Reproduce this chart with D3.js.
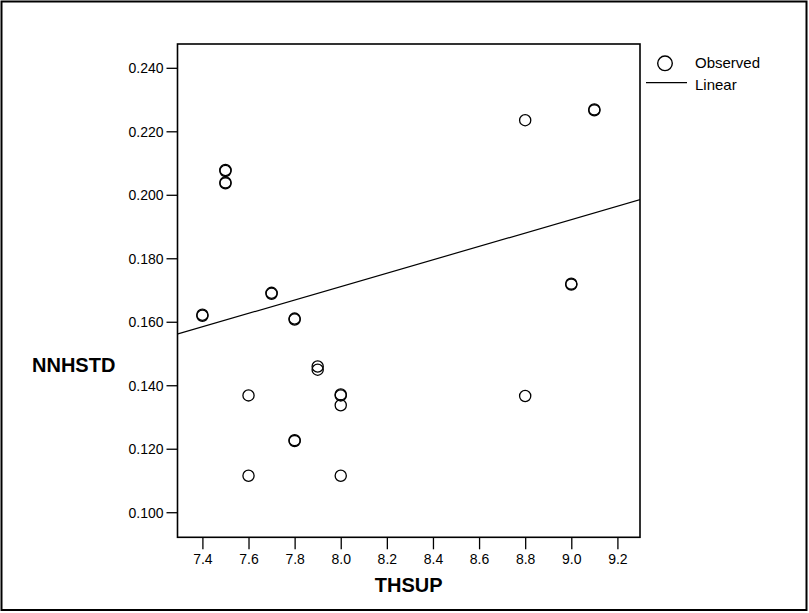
<!DOCTYPE html>
<html>
<head>
<meta charset="utf-8">
<script src="https://cdn.jsdelivr.net/npm/d3@7"></script>
<style>
  body { margin: 0; background: #fff; }
  svg { font-family: "Liberation Sans", Arial, sans-serif; }
</style>
</head>
<body>
<svg width="809" height="613"></svg>
<script>
// observed points (overlapping pairs show up as the heavier circles)
var thsup = [7.4, 7.4, 7.5, 7.5, 7.5, 7.5, 7.6, 7.6, 7.7, 7.7, 7.8, 7.8, 7.8, 7.8,
             7.9, 7.9, 8.0, 8.0, 8.0, 8.0, 8.8, 8.8, 9.0, 9.0, 9.1, 9.1];
var nnhstd = [0.1619, 0.1622, 0.2075, 0.2078, 0.2036, 0.2039, 0.1368, 0.1115, 0.1688, 0.1691,
              0.1607, 0.1610, 0.1224, 0.1227, 0.1459, 0.1449, 0.1368, 0.1371, 0.1337, 0.1115,
              0.2235, 0.1366, 0.1717, 0.1720, 0.2266, 0.2269];

// fitted linear line, read at the plot edges
var lineX = [7.29, 9.3];
var lineY = [0.1561, 0.1985];

var xTicks = [7.4, 7.6, 7.8, 8.0, 8.2, 8.4, 8.6, 8.8, 9.0, 9.2];
var yTicks = [0.100, 0.120, 0.140, 0.160, 0.180, 0.200, 0.220, 0.240];

function main(){
    var svg = d3.select("svg");
    var left = 177.5, right = 640, top = 44, bottom = 537.3;

    // outer frame
    svg.append("rect")
        .attr("x", 1.5).attr("y", 1.5)
        .attr("width", 805).attr("height", 608.5)
        .attr("fill", "none")
        .attr("stroke", "#000")
        .attr("stroke-width", 2);

    var x = d3.scaleLinear().domain([7.292, 9.298]).range([left, right]);
    var y = d3.scaleLinear().domain([0.0921, 0.2475]).range([bottom, top]);

    var points = thsup.map(function(d, i){ return {x: d, y: nnhstd[i]}; });

    var xAxis = svg.append("g")
        .attr("transform", "translate(0," + bottom + ")")
        .call(d3.axisBottom(x).tickValues(xTicks).tickFormat(d3.format(".1f"))
            .tickSize(12).tickPadding(5));

    var yAxis = svg.append("g")
        .attr("transform", "translate(" + left + ",0)")
        .call(d3.axisLeft(y).tickValues(yTicks).tickFormat(d3.format(".3f"))
            .tickSize(11).tickPadding(3));

    [xAxis, yAxis].forEach(function(a){
        a.select(".domain").remove();
        a.selectAll("line").attr("stroke", "#000").attr("stroke-width", 1.3);
        a.selectAll("text")
            .attr("fill", "#000")
            .style("font-size", "14px")
            .style("font-family", "'Liberation Sans', Arial, sans-serif");
    });
    yAxis.selectAll("text").attr("dy", "0.36em");

    // plot frame
    svg.append("rect")
        .attr("x", left).attr("y", top)
        .attr("width", right - left).attr("height", bottom - top)
        .attr("fill", "none")
        .attr("stroke", "#000")
        .attr("stroke-width", 1.6);

    var clip = svg.append("clipPath").attr("id", "plotclip")
        .append("rect")
        .attr("x", left).attr("y", top)
        .attr("width", right - left).attr("height", bottom - top);

    svg.append("line")
        .attr("clip-path", "url(#plotclip)")
        .attr("x1", x(lineX[0])).attr("y1", y(lineY[0]))
        .attr("x2", x(lineX[1])).attr("y2", y(lineY[1]))
        .attr("stroke", "#000")
        .attr("stroke-width", 1.2);

    svg.selectAll(".pt")
        .data(points)
        .enter().append("circle")
        .attr("class", "pt")
        .attr("cx", function(d){ return x(d.x); })
        .attr("cy", function(d){ return y(d.y); })
        .attr("r", 5.6)
        .attr("fill", "none")
        .attr("stroke", "#000")
        .attr("stroke-width", 1.3);

    // axis titles
    svg.append("text")
        .attr("x", 32).attr("y", 372)
        .attr("font-size", "20px")
        .attr("font-weight", "bold")
        .text("NNHSTD");

    svg.append("text")
        .attr("x", (left + right) / 2).attr("y", 592)
        .attr("text-anchor", "middle")
        .attr("font-size", "20px")
        .attr("font-weight", "bold")
        .text("THSUP");

    // legend
    var lg = svg.append("g");
    lg.append("circle")
        .attr("cx", 665).attr("cy", 63.3).attr("r", 7.3)
        .attr("fill", "none").attr("stroke", "#000").attr("stroke-width", 1.4);
    lg.append("text")
        .attr("x", 695).attr("y", 68.3)
        .attr("font-size", "15px")
        .text("Observed");
    lg.append("line")
        .attr("x1", 646).attr("x2", 687)
        .attr("y1", 82.7).attr("y2", 82.7)
        .attr("stroke", "#000").attr("stroke-width", 1.2);
    lg.append("text")
        .attr("x", 695).attr("y", 90)
        .attr("font-size", "15px")
        .text("Linear");
}
main();
</script>
</body>
</html>
